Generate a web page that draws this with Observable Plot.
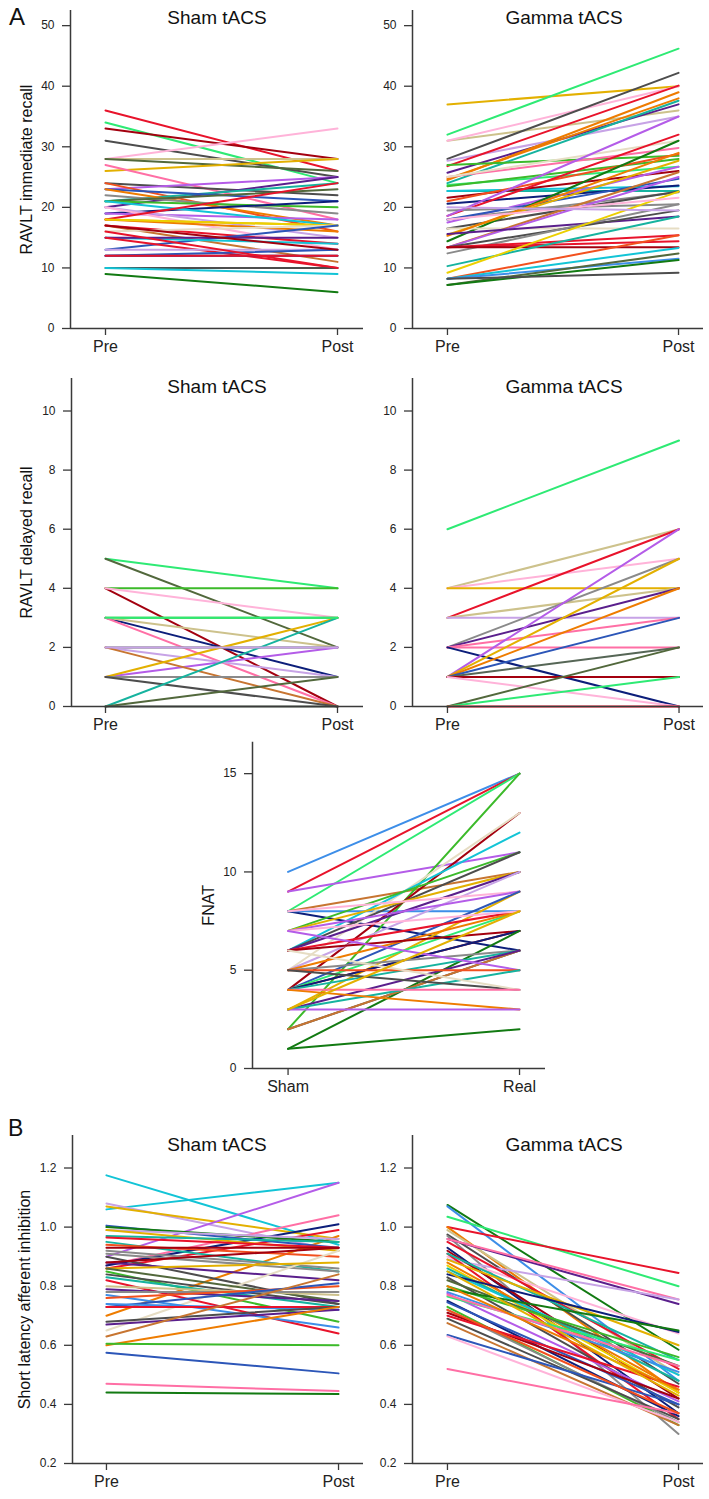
<!DOCTYPE html>
<html><head><meta charset="utf-8">
<script src="https://cdn.jsdelivr.net/npm/d3@7"></script>
<script src="https://cdn.jsdelivr.net/npm/@observablehq/plot@0.6"></script>
<style>
body{margin:0;background:#fff;}
#root{position:relative;width:709px;height:1499px;font-family:"Liberation Sans",Arial,Helvetica,sans-serif;color:#111;}
#root svg{position:absolute;overflow:visible;}
.title{position:absolute;font-size:19px;line-height:19px;transform:translateX(-50%);white-space:nowrap;}
.letter{position:absolute;line-height:1;}
</style></head><body><div id="root"></div>
<script>
// ---------- DATA ----------
const prePostLabels = ["Pre", "Post"];
const fnatLabels = ["Sham", "Real"];

// RAVLT immediate recall – Sham tACS
const immShamPre  = [36,34,33,31,28,28,28,26,27,24, 23,20,24,21,23,23,22,21,21,19, 19,21,20,20,18,18,18,18,17,17, 16,13,15,15,15,13,12,12,12,10, 10,9,16,17];
const immShamPost = [26,24,28,25,33,28,26,28,18,22, 25,25,16,24,21,17,19,23,20,21, 18,17,15,13,17,16,24,17,11,14, 17,17,14,15,10,13,12,13,12,10, 9,6,10,13];
// RAVLT immediate recall – Gamma tACS
const immGammaPre  = [37,32,31,31,28,27.7,26.8,25.7,24.7,24.5, 24,27,25,25,23.7,23.5,22.7,22.7,21.6,21, 20.6,18.6,19.5,18.6,17.5,18,18,16.5,14.4,16.5, 15.5,15.3,13.4,13.4,15.6,13.4,12.4,13.4,13.4,13.4, 10.3,9.2,8.2,8.2,8.2,7.2,7.2,8.2,18,20];
const immGammaPost = [40,46.2,36,40,42.2,35,40.1,37,38,39, 37.6,28.5,29.8,31,26.7,28,22.7,23.5,26,28.8, 23.6,32,20.5,35,26.7,22.5,24.7,22.6,31,16.5, 27.7,29,25.8,25,18.5,19.5,20.5,15.4,14.4,13.4, 18.5,22.6,15.4,13.3,11.5,12.4,11.3,9.2,21.6,19.5];
// RAVLT delayed recall – Sham tACS
const delShamPre  = [5,5,4,4,4,3,3,3,3,2,1,2,2,1,1,1,0,0,0,2,3];
const delShamPost = [4,2,4,0,3,3,1,2,0,2,2,1,0,3,1,0,3,1,0,2,3];
// RAVLT delayed recall – Gamma tACS
const delGammaPre  = [6,4,4,4,3,3,3,2,2,2,2,2,1,1,1,1,1,1,1,0,0,0];
const delGammaPost = [9,6,5,4,6,4,3,5,4,3,2,0,6,5,4,3,2,1,0,2,1,0];
// FNAT – Sham vs Real
const fnatSham = [10,9,8,9,8,8,8,2,4,5, 6,7,6,7,6,5,8,7,3,4, 6,4,5,7,6,4,4,1,5,4, 2,2,3,7,5,3,5,6,4,4, 3,1,3];
const fnatReal = [15,15,15,11,10,6,8,15,13,13, 12,11,11,10,10,10,9,9,9,9, 8,8,8,8,7,7,7,7,6,6, 6,6,6,5,5,5,4,4,4,3, 3,2,8];
// Short latency afferent inhibition – Sham tACS
const saiShamPre  = [1.175,1.06,1.08,1.07,0.90,0.87,0.87,0.86,0.70,1.005, 1.0,0.99,0.99,0.97,0.965,0.95,0.94,0.93,0.92,0.91, 0.90,0.88,0.88,0.65,0.86,0.86,0.85,0.83,0.82,0.84, 0.80,0.79,0.78,0.77,0.76,0.73,0.74,0.73,0.68,0.67, 0.63,0.60,0.605,0.575,0.47,0.44];
const saiShamPost = [0.94,1.15,0.92,0.96,1.15,1.04,1.01,0.99,0.97,0.93, 0.95,0.96,0.92,0.95,0.93,0.85,0.90,0.93,0.86,0.85, 0.74,0.82,0.93,0.92,0.88,0.75,0.68,0.73,0.64,0.74, 0.77,0.75,0.78,0.66,0.80,0.81,0.72,0.73,0.73,0.72, 0.84,0.73,0.60,0.505,0.445,0.435];
// Short latency afferent inhibition – Gamma tACS
const saiGammaPre  = [1.075,1.07,1.035,1.0,1.0,0.99,0.975,0.97,0.96,0.96, 0.89,0.9,0.95,0.93,0.92,0.91,0.91,0.89,0.88,0.87, 0.86,0.85,0.84,0.83,0.82,0.8,0.79,0.78,0.775,0.765, 0.77,0.75,0.745,0.73,0.72,0.71,0.70,0.69,0.675,0.635, 0.63,0.52,0.8,0.85,0.72];
const saiGammaPost = [0.585,0.48,0.80,0.845,0.44,0.50,0.47,0.30,0.74,0.755, 0.755,0.64,0.52,0.37,0.42,0.35,0.55,0.60,0.45,0.44, 0.48,0.50,0.645,0.39,0.53,0.56,0.65,0.51,0.41,0.55, 0.53,0.36,0.40,0.33,0.34,0.42,0.46,0.35,0.33,0.40, 0.34,0.37,0.45,0.43,0.37];

const immTicks = [0,10,20,30,40,50];
const delTicks = [0,2,4,6,8,10];
const fnatTicks = [0,5,10,15];
const saiTicks = [0.2,0.4,0.6,0.8,1.0,1.2];

// ---------- STYLE ----------
const palette = {
  red:"#e8132b", lightGreen:"#2eea74", darkRed:"#a3000f", darkGray:"#4d4d4d", pink:"#ffb3d9",
  khaki:"#cdc28c", olive:"#52683c", gold:"#e3b000", hotPink:"#ff6fa5", violet:"#b45ce8",
  purple:"#5a1f8c", orange:"#ee7c00", blue:"#2c56b8", navy:"#0c1e7a", teal:"#16b39f",
  cyan:"#12c4d6", green:"#3cba2a", darkGreen:"#127a12", lightPurple:"#c7a3e6", beige:"#e6ddc4",
  gray:"#8a8a8a", brown:"#c77531", orangeRed:"#f2501e", yellow:"#ecd000", lightBlue:"#3d8ee8", slate:"#566656"
};
const immShamColors = ["red","lightGreen","darkRed","darkGray","pink","khaki","olive","gold","hotPink","darkGray","violet","purple","orangeRed","teal","blue","orange","gray","olive","green","navy","violet","cyan","lightPurple","pink","gold","orange","red","yellow","brown","red","beige","blue","cyan","purple","red","lightPurple","navy","blue","red","darkGray","cyan","darkGreen","red","darkRed"];
const immGammaColors = ["gold","lightGreen","khaki","pink","darkGray","lightPurple","red","purple","orange","orange","teal","green","hotPink","beige","lightGreen","green","teal","cyan","darkRed","orangeRed","navy","red","gray","violet","violet","gray","blue","darkGray","darkGreen","beige","gold","orange","brown","violet","purple","darkGray","gray","red","red","darkRed","teal","yellow","orangeRed","cyan","lightBlue","olive","darkGreen","darkGray","pink","lightPurple"];
const delShamColors = ["lightGreen","olive","green","darkRed","pink","green","navy","khaki","hotPink","slate","violet","lightPurple","brown","gold","gray","darkGray","teal","olive","slate","lightPurple","lightGreen"];
const delGammaColors = ["lightGreen","khaki","pink","gold","red","khaki","lightPurple","gray","purple","hotPink","hotPink","navy","violet","gold","orange","blue","slate","darkRed","pink","olive","lightGreen","red"];
const fnatColors = ["lightBlue","red","lightGreen","violet","brown","navy","lightBlue","green","darkRed","beige","cyan","green","darkGray","gold","purple","lightPurple","pink","violet","gold","blue","red","lightGreen","orange","pink","darkRed","darkRed","navy","darkGreen","gray","teal","darkGray","brown","purple","violet","orangeRed","teal","darkGray","beige","hotPink","orange","violet","darkGreen","gold"];
const saiShamColors = ["cyan","cyan","lightPurple","gold","violet","hotPink","navy","red","orange","blue","darkGreen","lightPurple","gold","teal","red","teal","orangeRed","darkRed","gray","gray","darkGray","purple","darkRed","beige","gold","olive","green","teal","red","darkGray","khaki","purple","gray","lightBlue","orangeRed","blue","lightBlue","red","darkGray","purple","brown","orange","green","blue","hotPink","darkGreen"];
const saiGammaColors = ["darkGreen","lightBlue","lightGreen","red","orange","khaki","darkGray","gray","purple","hotPink","lightPurple","pink","red","navy","darkRed","red","teal","gold","orange","yellow","teal","cyan","navy","darkGray","olive","green","darkGreen","lightBlue","violet","lightGreen","hotPink","navy","blue","green","gray","darkRed","red","darkGray","brown","blue","pink","hotPink","orange","gold","orangeRed"];

const FONT = '"Liberation Sans", Arial, Helvetica, sans-serif';
const AXIS = "#3a3a3a";
const root = document.getElementById("root");

function panel(c) {
  const marginLeft = 70, marginRight = 2, marginBottom = 34;
  const left = c.axisX - marginLeft;
  const marginTop = c.plotTop - c.top;
  const height = Math.round(c.plotBottom - c.top + marginBottom);
  const width = Math.round(c.xEnd - left + marginRight);
  const span = c.xPost - c.xPre;
  const xDomain = [-(c.xPre - c.axisX) / span, 1 + (c.xEnd - c.xPost) / span];
  const rows = [];
  c.pre.forEach((v, i) => {
    const color = palette[c.colors[i % c.colors.length]];
    rows.push({id: i, x: 0, value: v, color});
    rows.push({id: i, x: 1, value: c.post[i], color});
  });
  const svg = Plot.plot({
    width, height, marginLeft, marginRight, marginTop, marginBottom,
    style: {fontFamily: FONT, color: "#222", background: "transparent", overflow: "visible"},
    x: {domain: xDomain, axis: null},
    y: {domain: c.yDomain, axis: null},
    color: {type: "identity"},
    marks: [
      Plot.line(rows, {x: "x", y: "value", z: "id", stroke: "color", strokeWidth: 2, curve: "linear"}),
      Plot.ruleX([xDomain[0]], {stroke: AXIS, strokeWidth: 1.5}),
      Plot.ruleY([c.yDomain[0]], {stroke: AXIS, strokeWidth: 1.5}),
      Plot.axisY({ticks: c.yTicks, tickFormat: c.yFormat, tickSize: 8, tickPadding: 8, fontSize: 12, stroke: AXIS, strokeWidth: 1.3, label: null}),
      Plot.axisX({ticks: [0, 1], tickFormat: i => c.labels[i], tickSize: 7, tickPadding: 5, fontSize: 16, stroke: AXIS, strokeWidth: 1.3, label: null}),
      c.yLabel ? Plot.text([c.yLabel], {frameAnchor: "left", textAnchor: "middle", lineAnchor: "middle", rotate: -90, dx: c.yLabelDx, fontSize: 16, fill: "#111"}) : null
    ]
  });
  svg.style.left = left + "px";
  svg.style.top = c.top + "px";
  root.appendChild(svg);
  if (c.title) {
    const t = document.createElement("div");
    t.className = "title";
    t.textContent = c.title;
    t.style.left = c.titleX + "px";
    t.style.top = c.titleTop + "px";
    root.appendChild(t);
  }
}

function letter(txt, x, y, size) {
  const d = document.createElement("div");
  d.className = "letter";
  d.textContent = txt;
  d.style.left = x + "px"; d.style.top = y + "px"; d.style.fontSize = size + "px";
  root.appendChild(d);
}

const fmtInt = d3.format("d");
const fmtSai = d3.format(".1f");

// Row 1
panel({pre: immShamPre, post: immShamPost, colors: immShamColors, labels: prePostLabels,
  yDomain: [0, 52.5], yTicks: immTicks, yFormat: fmtInt, yLabel: "RAVLT immediate recall", yLabelDx: -44,
  axisX: 70, top: 0, plotTop: 10, plotBottom: 327.7, xPre: 105, xPost: 337, xEnd: 363,
  title: "Sham tACS", titleX: 217, titleTop: 7.5});
panel({pre: immGammaPre, post: immGammaPost, colors: immGammaColors, labels: prePostLabels,
  yDomain: [0, 52.5], yTicks: immTicks, yFormat: fmtInt,
  axisX: 411.7, top: 0, plotTop: 10, plotBottom: 327.7, xPre: 446.7, xPost: 678, xEnd: 703,
  title: "Gamma tACS", titleX: 564, titleTop: 7.5});
// Row 2
panel({pre: delShamPre, post: delShamPost, colors: delShamColors, labels: prePostLabels,
  yDomain: [0, 11.1], yTicks: delTicks, yFormat: fmtInt, yLabel: "RAVLT delayed recall", yLabelDx: -45,
  axisX: 71, top: 360, plotTop: 378, plotBottom: 705.7, xPre: 105, xPost: 337, xEnd: 363,
  title: "Sham tACS", titleX: 217, titleTop: 376.5});
panel({pre: delGammaPre, post: delGammaPost, colors: delGammaColors, labels: prePostLabels,
  yDomain: [0, 11.1], yTicks: delTicks, yFormat: fmtInt,
  axisX: 411.7, top: 360, plotTop: 378, plotBottom: 705.7, xPre: 446.7, xPost: 678.5, xEnd: 703,
  title: "Gamma tACS", titleX: 564, titleTop: 376.5});
// Row 3
panel({pre: fnatSham, post: fnatReal, colors: fnatColors, labels: fnatLabels,
  yDomain: [0, 16.6], yTicks: fnatTicks, yFormat: fmtInt, yLabel: "FNAT", yLabelDx: -44,
  axisX: 251.7, top: 730, plotTop: 741.7, plotBottom: 1068.3, xPre: 287.3, xPost: 519, xEnd: 545});
// Row 4
panel({pre: saiShamPre, post: saiShamPost, colors: saiShamColors, labels: prePostLabels,
  yDomain: [0.2, 1.31], yTicks: saiTicks, yFormat: fmtSai, yLabel: "Short latency afferent inhibition", yLabelDx: -48,
  axisX: 71.7, top: 1100, plotTop: 1135, plotBottom: 1462.7, xPre: 105.7, xPost: 338, xEnd: 363,
  title: "Sham tACS", titleX: 217, titleTop: 1134.5});
panel({pre: saiGammaPre, post: saiGammaPost, colors: saiGammaColors, labels: prePostLabels,
  yDomain: [0.2, 1.31], yTicks: saiTicks, yFormat: fmtSai,
  axisX: 411.7, top: 1100, plotTop: 1135, plotBottom: 1462.7, xPre: 446.7, xPost: 678, xEnd: 703,
  title: "Gamma tACS", titleX: 564, titleTop: 1134.5});

letter("A", 9, 5, 24);
letter("B", 8, 1117, 23);
</script>
</body></html>
